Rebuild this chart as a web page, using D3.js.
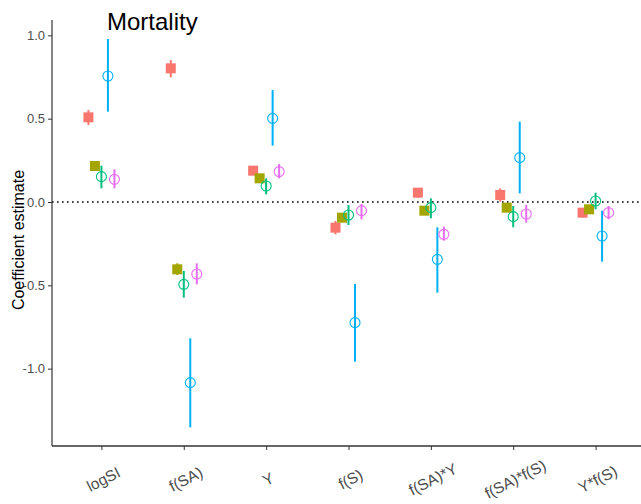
<!DOCTYPE html>
<html>
<head>
<meta charset="utf-8">
<script src="https://cdn.jsdelivr.net/npm/d3@7/dist/d3.min.js"></script>
<style>
  body { margin: 0; background: #fff; }
  svg { display: block; font-family: "Liberation Sans", Arial, sans-serif; }
</style>
</head>
<body>
<svg id="chart" width="641" height="504"></svg>
<script>
// terms on the x axis
const terms = ["logSI", "f(SA)", "Y", "f(S)", "f(SA)*Y", "f(SA)*f(S)", "Y*f(S)"];
// five model series, dodged inside each term
const seriesNames = ["s1", "s2", "s3", "s4", "s5"];
const seriesColors = ["#F8766D", "#A3A500", "#00BF7D", "#00B0F6", "#E76BF3"];
const seriesShapes = ["square", "square", "circle", "circle", "circle"];

// estimates per series, in term order
const est1 = [0.508, 0.802, 0.188, -0.154, 0.056, 0.042, -0.064];
const est2 = [0.216, -0.404, 0.142, -0.094, -0.052, -0.034, -0.044];
const est3 = [0.152, -0.494, 0.096, -0.078, -0.034, -0.088, 0.006];
const est4 = [0.756, -1.084, 0.502, -0.724, -0.344, 0.266, -0.204];
const est5 = [0.136, -0.432, 0.182, -0.052, -0.194, -0.072, -0.064];

// lower / upper interval ends
const lo1 = [0.462, 0.748, 0.166, -0.194, 0.026, 0.002, -0.092];
const hi1 = [0.552, 0.852, 0.212, -0.114, 0.082, 0.082, -0.048];
const lo2 = [0.192, -0.438, 0.130, -0.110, -0.066, -0.046, -0.056];
const hi2 = [0.236, -0.368, 0.154, -0.080, -0.038, -0.022, -0.032];
const lo3 = [0.082, -0.574, 0.046, -0.138, -0.098, -0.152, -0.044];
const hi3 = [0.218, -0.414, 0.142, -0.018, 0.022, -0.024, 0.056];
const lo4 = [0.542, -1.352, 0.338, -0.958, -0.544, 0.052, -0.358];
const hi4 = [0.978, -0.818, 0.672, -0.492, -0.152, 0.482, -0.052];
const lo5 = [0.082, -0.494, 0.142, -0.104, -0.232, -0.124, -0.104];
const hi5 = [0.196, -0.368, 0.228, -0.012, -0.148, -0.018, -0.024];

const yTicks = [-1.0, -0.5, 0.0, 0.5, 1.0];

const ests = [est1, est2, est3, est4, est5];
const los = [lo1, lo2, lo3, lo4, lo5];
const his = [hi1, hi2, hi3, hi4, hi5];

let rows = [];
seriesNames.forEach((s, i) => {
    terms.forEach((t, j) => {
        rows.push({ term: t, series: i, est: ests[i][j], lo: los[i][j], hi: his[i][j] });
    });
});

const svg = d3.select("#chart");
const marginLeft = 52, axisBottomY = 446, axisTopY = 20;

const x = d3.scalePoint().domain(terms).range([marginLeft, 645]).padding(0.6);
const dodge = d3.scalePoint().domain(d3.range(seriesNames.length)).range([-13, 13]);
const y = d3.scaleLinear().domain([-1.464, 1.092]).range([axisBottomY, axisTopY]);

// zero reference line
svg.append("line")
    .attr("x1", marginLeft).attr("x2", 641)
    .attr("y1", y(0)).attr("y2", y(0))
    .attr("stroke", "#000")
    .attr("stroke-width", 1.6)
    .attr("stroke-dasharray", "1.6,3.4");

// axes
const gY = svg.append("g")
    .attr("transform", `translate(${marginLeft},0)`)
    .call(d3.axisLeft(y).tickValues(yTicks)
        .tickFormat(d => d3.format(".1f")(d).replace("\u2212", "-"))
        .tickSize(4).tickPadding(3));
gY.select(".domain").attr("stroke", "#333").attr("stroke-width", 1.2).attr("d", `M0,${axisTopY}V${axisBottomY}`);
gY.selectAll(".tick line").attr("stroke", "#333");
gY.selectAll(".tick text").attr("fill", "#4D4D4D").style("font-size", "13px");

const gX = svg.append("g")
    .attr("transform", `translate(0,${axisBottomY})`)
    .call(d3.axisBottom(x).tickSize(4).tickPadding(3));
gX.select(".domain").attr("stroke", "#333").attr("stroke-width", 1.4).attr("d", `M${marginLeft},0H641`);
gX.selectAll(".tick line").attr("stroke", "#333");
gX.selectAll(".tick text")
    .attr("fill", "#4D4D4D")
    .style("font-size", "15.5px")
    .attr("text-anchor", "middle")
    .attr("y", 0).attr("dy", 0)
    .attr("transform", "translate(4,38) rotate(-27)");

// error bars
svg.append("g").selectAll("line")
    .data(rows)
    .join("line")
    .attr("x1", d => x(d.term) + dodge(d.series))
    .attr("x2", d => x(d.term) + dodge(d.series))
    .attr("y1", d => y(d.lo))
    .attr("y2", d => y(d.hi))
    .attr("stroke", d => seriesColors[d.series])
    .attr("stroke-width", 2);

// points
const pts = svg.append("g");
pts.selectAll("rect")
    .data(rows.filter(d => seriesShapes[d.series] === "square"))
    .join("rect")
    .attr("x", d => x(d.term) + dodge(d.series) - 5)
    .attr("y", d => y(d.est) - 5)
    .attr("width", 10).attr("height", 10)
    .attr("fill", d => seriesColors[d.series]);
pts.selectAll("circle")
    .data(rows.filter(d => seriesShapes[d.series] === "circle"))
    .join("circle")
    .attr("cx", d => x(d.term) + dodge(d.series))
    .attr("cy", d => y(d.est))
    .attr("r", 5)
    .attr("fill", "none")
    .attr("stroke", d => seriesColors[d.series])
    .attr("stroke-width", 1.1);

// titles
svg.append("text")
    .attr("x", 107).attr("y", 30)
    .style("font-size", "24px")
    .attr("fill", "#000")
    .text("Mortality");

svg.append("text")
    .attr("transform", "translate(24,240) rotate(-90)")
    .attr("text-anchor", "middle")
    .style("font-size", "16px")
    .attr("fill", "#000")
    .text("Coefficient estimate");
</script>
</body>
</html>
